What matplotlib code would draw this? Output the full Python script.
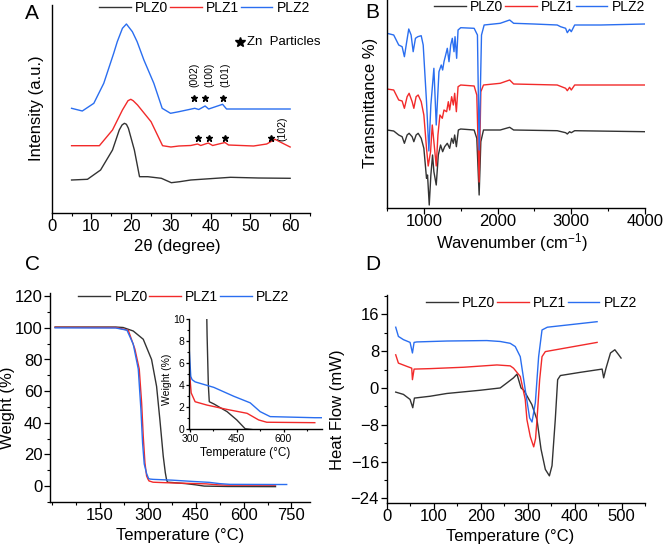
import numpy as np
import matplotlib
matplotlib.use("Agg")
import matplotlib.pyplot as plt
from matplotlib.ticker import MultipleLocator

plt.rcParams['font.family'] = ['Liberation Sans', 'DejaVu Sans']
plt.rcParams['mathtext.default'] = 'regular'
plt.rcParams['axes.linewidth'] = 1.0

# ---------------- data ----------------
labels = ['PLZ0', 'PLZ1', 'PLZ2']
colors = ['#333333', '#f22a2a', '#2a6ef0']

# A: XRD (arbitrary intensity, curves already offset)
xrd_2theta_plz0 = [5, 9, 12.3, 15.3, 17, 17.7, 18.3, 18.8, 19.3, 20.8, 22.1, 24.2, 27.6, 30.1, 32.2,
                   35, 45, 52, 60]
xrd_plz0 = [33, 33.7, 43, 63, 83, 88, 89.7, 88.7, 84.7, 63, 36.3, 36.3, 34.7, 30.3, 31.3,
            33, 35.7, 35, 34.7]
xrd_2theta_plz1 = [5, 12, 15.3, 17.8, 19.2, 19.9, 20.5, 21.6, 25, 27.9, 30, 32, 35, 36.7, 37.5,
                   39.4, 40.5, 43.6, 44.5, 50.8, 54.1, 56.2, 58, 60]
xrd_plz1 = [67.3, 67.3, 83, 103, 112.3, 113.7, 112.3, 108, 91.3, 67.3, 66, 67, 67.5, 69, 67.5,
            70, 67.5, 70.5, 68, 67, 69, 73.7, 70, 66]
xrd_2theta_plz2 = [5, 7.7, 10.6, 13.1, 15.6, 16.5, 17.8, 18.8, 20.3, 21.5, 23.2, 25.7, 27.8, 29.9,
                   32, 34, 36, 37, 38.6, 39.5, 43, 44, 50, 60]
xrd_plz2 = [104.7, 102, 109.7, 129.7, 159.7, 171.3, 184.7, 189, 181.3, 171.3, 153, 129.7, 104.7, 99.7,
            101.3, 103, 104.7, 103.5, 107, 104, 108.7, 104, 104, 104]
zn_star_x_plz2 = [35.9, 38.6, 43.0]
zn_star_x_plz1 = [36.7, 39.5, 43.6, 55.1]
hkl_plz2 = ['(002)', '(100)', '(101)']

# B: FTIR (arbitrary transmittance, offset)
ir_wn_plz0 = [500, 591, 659, 705, 736, 773, 800, 841, 864, 895, 923, 964, 1000, 1036, 1050, 1073,
              1095, 1118, 1136, 1168, 1196, 1227, 1255, 1282, 1318, 1350, 1377, 1400, 1418, 1441,
              1468, 1500, 1682, 1718, 1750, 1773, 1809, 2036, 2164, 2218, 2809, 2923, 2946, 2977,
              3000, 3046, 4000]
ir_plz0 = [78, 77, 73, 71.3, 64.7, 73, 74.7, 71.3, 66.3, 73, 74.7, 69.7, 59.7, 29.7, 33, 3,
           33, 53, 36.3, 23, 53, 63, 56.3, 61.3, 64.7, 59.7, 69.7, 64.7, 73, 61.3,
           78, 79, 78, 69.7, 13, 66.3, 78, 78, 80.7, 78, 77.3, 75.3, 74, 76.3,
           75.3, 77.3, 76.3]
ir_wn_plz1 = [500, 591, 659, 705, 736, 773, 800, 841, 864, 895, 923, 964, 1000, 1036, 1059, 1091,
              1114, 1136, 1168, 1191, 1218, 1250, 1273, 1309, 1332, 1350, 1377, 1400, 1418, 1441,
              1464, 1500, 1682, 1718, 1750, 1773, 1809, 2036, 2164, 2218, 2809, 2923, 2946, 2977,
              3000, 3046, 4000]
ir_plz1 = [119, 118, 108, 107, 99.7, 111.3, 114.7, 106.3, 99.7, 111.3, 113, 106.3, 93, 59.7, 42, 56.3,
           83, 66.3, 42, 73, 93, 89.7, 98, 96.3, 106.3, 98, 111.3, 103, 114.7, 96.3,
           121.3, 123, 122, 113, 26, 116.3, 123, 124.7, 128, 124, 123, 119.7, 117.3, 120.7,
           118, 123, 123]
ir_wn_plz2 = [500, 591, 659, 705, 736, 764, 795, 827, 855, 886, 918, 964, 991, 1036, 1068, 1095,
              1136, 1168, 1205, 1236, 1255, 1273, 1296, 1318, 1341, 1364, 1386, 1409, 1423, 1445,
              1464, 1500, 1682, 1727, 1750, 1782, 1818, 2036, 2164, 2218, 2491, 2809, 2855, 2923,
              2946, 2977, 3000, 3046, 3400, 4000]
ir_plz2 = [174.7, 173, 163, 161.3, 151.3, 164.7, 179, 173, 156.3, 169.7, 171.3, 172.3, 163, 106.3, 57, 103,
           139.7, 83, 136.3, 143, 138, 146.3, 153, 159.7, 146.3, 163, 169.7, 156.3, 171.3, 149.7,
           178, 180.3, 179.7, 173, 58, 173, 183, 184.7, 188, 184.7, 184, 183, 181.3, 179.7,
           175.3, 178.7, 176.3, 183, 183, 184]

# C: TGA weight (%)
tga_temp_plz0 = [10, 200, 223, 254.6, 285.9, 312, 327.7, 338, 348.5, 355, 359, 362, 376.6, 419,
                 450, 477, 550, 700]
tga_plz0 = [100.5, 100.5, 100.2, 98, 92.8, 80, 63, 42, 19, 8.5, 4, 2.5, 2.3, 1.6,
            0.85, 0.05, -0.2, -0.3]
tga_temp_plz1 = [10, 200, 239, 259.9, 273.4, 280.8, 285.9, 291.2, 296.4, 300.6, 304, 316.6, 354,
                 419, 483, 520, 546, 700]
tga_plz1 = [100.3, 100.2, 98.5, 86.5, 74, 52.8, 31.6, 14.8, 6.5, 4.5, 3.3, 2.5, 2.2,
            1.8, 1.45, 0.85, 0.64, 0.6]
tga_temp_plz2 = [10, 200, 235, 254.6, 270.3, 278.6, 283.9, 289, 296.4, 302.7, 307, 316.6, 376.6,
                 440, 493, 525, 557, 700, 735]
tga_plz2 = [100, 99.9, 98.5, 89.7, 74, 48.5, 27, 14, 8, 4.8, 4.5, 4.3, 3.8,
            3.0, 2.4, 1.6, 1.15, 1.05, 1.05]

# D: DSC heat flow (mW)
dsc_temp_plz0 = [19.2, 35.6, 49.8, 55.5, 59, 92.5, 128, 199, 241.7, 256, 270, 277.4, 286, 292,
                 309, 320, 328.6, 337.8, 346.4, 352, 359, 364, 369.8, 412.5, 458.7, 462, 467,
                 476.5, 485.8, 494, 499]
dsc_plz0 = [-0.9, -1.4, -2.5, -4.3, -2.2, -1.8, -1.2, -0.5, 0.0, 1.1, 2.2, 3.0, 0.0, -0.5,
            -3.6, -6.9, -13.3, -17.7, -19.1, -16.9, -6.8, 1.8, 2.7, 3.4, 4.1, 2.2, 4.3,
            7.6, 8.3, 7.2, 6.5]
dsc_temp_plz1 = [19.2, 24.9, 42.7, 53.3, 54.8, 58.3, 92.5, 163.6, 234.7, 263, 270, 284.4, 295,
                 298.6, 305.8, 313, 317, 320, 325.7, 330.7, 337.8, 448]
dsc_plz1 = [7.2, 5.4, 4.7, 4.3, 1.8, 4.1, 4.2, 4.5, 5.0, 4.8, 4.3, 2.5, -2.5,
            -6.9, -10.6, -12.8, -11, -6.9, 1.8, 6.8, 7.9, 9.9]
dsc_temp_plz2 = [19.2, 24.9, 35.6, 49.8, 54.8, 58.3, 64, 128, 213, 241.7, 263, 273.7, 284.4, 295,
                 304.3, 309.4, 316.5, 323.5, 330.7, 342, 448]
dsc_plz2 = [13.2, 11.2, 10.5, 9.9, 7.6, 9.9, 10.0, 10.2, 10.3, 10.1, 9.7, 9.0, 6.8, -0.4,
            -6.5, -7.4, -3.2, 6.8, 12.6, 13.2, 14.4]

# ---------------- figure ----------------
W, H = 664, 550
fig = plt.figure(figsize=(W / 100, H / 100), dpi=100)


def px_axes(l, r, b, t):
    return fig.add_axes([l / W, 1 - b / H, (r - l) / W, (b - t) / H])


def style(ax, size=12):
    for s in ['top', 'right']:
        ax.spines[s].set_visible(False)
    ax.tick_params(which='major', direction='out', length=4, width=0.9, labelsize=size)
    ax.tick_params(axis='x', which='major', pad=0.5)
    ax.tick_params(axis='y', which='major', pad=1.5)
    ax.tick_params(which='minor', direction='out', length=2.2, width=0.8)


def set_labels(ax, xlab, ylab, xpos, ypos, size=12):
    # xpos / ypos: label anchor in axes fraction (x label top centre, y label right centre)
    ax.set_xlabel(xlab, fontsize=size)
    ax.set_ylabel(ylab, fontsize=size)
    ax.xaxis.set_label_coords(*xpos)
    ax.yaxis.set_label_coords(*ypos)


def add_legend(ax, loc, anchor):
    ax.legend(loc=loc, bbox_to_anchor=anchor, ncol=3, frameon=False, fontsize=10,
              handlelength=2.3, handletextpad=0.3, columnspacing=0.1, borderpad=0,
              borderaxespad=0)


lw = 1.0

# A
axA = px_axes(51.7, 310, 213, 5)
style(axA)
xrd_x = [xrd_2theta_plz0, xrd_2theta_plz1, xrd_2theta_plz2]
xrd_y = [xrd_plz0, xrd_plz1, xrd_plz2]
for xx, yy, c, lab in zip(xrd_x, xrd_y, colors, labels):
    axA.plot(xx, yy, color=c, lw=lw, label=lab)
axA.plot(zn_star_x_plz2, [114.7] * len(zn_star_x_plz2), '*', color='k', ms=4.5)
axA.plot(zn_star_x_plz1, [74.7] * len(zn_star_x_plz1), '*', color='k', ms=4.5)
for xp, t in zip([36.0, 39.6, 43.8], hkl_plz2):
    axA.text(xp, 138, t, rotation=90, ha='center', va='center', fontsize=7.5)
axA.text(58.1, 84, '(102)', rotation=90, ha='center', va='center', fontsize=7.5)
axA.plot([47.4], [171.3], '*', color='k', ms=7)
axA.text(49.2, 171.3, 'Zn  Particles', ha='left', va='center', fontsize=9.5)
axA.set_xlim(0, 65)
axA.set_ylim(0, 208)
axA.set_yticks([])
axA.xaxis.set_major_locator(MultipleLocator(10))
axA.xaxis.set_minor_locator(MultipleLocator(5))
set_labels(axA, '2θ (degree)', 'Intensity (a.u.)', (0.485, -0.124), (-0.03, 0.505))
add_legend(axA, 'center right', (1.0, 0.985))

# B
axB = px_axes(387, 645, 208, 0)
style(axB)
ir_x = [ir_wn_plz0, ir_wn_plz1, ir_wn_plz2]
ir_y = [ir_plz0, ir_plz1, ir_plz2]
for xx, yy, c, lab in zip(ir_x, ir_y, colors, labels):
    axB.plot(xx, yy, color=c, lw=lw, label=lab)
axB.set_xlim(500, 4000)
axB.set_ylim(0, 208)
axB.set_yticks([])
axB.xaxis.set_major_locator(MultipleLocator(1000))
axB.xaxis.set_minor_locator(MultipleLocator(500))
set_labels(axB, 'Wavenumber (cm$^{-1}$)', 'Transmittance %)', (0.483, -0.112), (-0.035, 0.505))
add_legend(axB, 'center right', (1.0, 0.966))

# C
axC = px_axes(50, 310, 502, 293)
style(axC)
tga_x = [tga_temp_plz0, tga_temp_plz1, tga_temp_plz2]
tga_y = [tga_plz0, tga_plz1, tga_plz2]
for xx, yy, c, lab in zip(tga_x, tga_y, colors, labels):
    axC.plot(xx, yy, color=c, lw=lw, label=lab)
axC.set_xlim(-6, 808)
axC.set_ylim(-10, 122)
axC.set_xticks([150, 300, 450, 600, 750])
axC.xaxis.set_minor_locator(MultipleLocator(75))
axC.yaxis.set_major_locator(MultipleLocator(20))
axC.yaxis.set_minor_locator(MultipleLocator(10))
set_labels(axC, 'Temperature (°C)', 'Weight (%)', (0.5, -0.124), (-0.135, 0.45))
add_legend(axC, 'center', (0.515, 0.982))

# C inset
axI = px_axes(189.3, 322, 429.3, 319)
style(axI, size=7.5)
axI.tick_params(which='major', length=2.5, pad=1)
axI.tick_params(which='minor', length=1.5)
for xx, yy, c in zip(tga_x, tga_y, colors):
    axI.plot(xx, yy, color=c, lw=lw)
axI.set_xlim(298, 723)
axI.set_ylim(0, 10)
axI.set_xticks([300, 450, 600])
axI.xaxis.set_minor_locator(MultipleLocator(75))
axI.yaxis.set_major_locator(MultipleLocator(2))
axI.yaxis.set_minor_locator(MultipleLocator(1))
axI.set_xlabel('Temperature (°C)', fontsize=8.5)
axI.set_ylabel('Weight (%)', fontsize=7.5)
axI.xaxis.set_label_coords(0.42, -0.16)
axI.yaxis.set_label_coords(-0.13, 0.45)

# D
axD = px_axes(386.7, 645, 503, 295)
style(axD)
dsc_x = [dsc_temp_plz0, dsc_temp_plz1, dsc_temp_plz2]
dsc_y = [dsc_plz0, dsc_plz1, dsc_plz2]
for xx, yy, c, lab in zip(dsc_x, dsc_y, colors, labels):
    axD.plot(xx, yy, color=c, lw=lw, label=lab)
axD.set_xlim(0, 550)
axD.set_ylim(-25, 20.2)
axD.xaxis.set_major_locator(MultipleLocator(100))
axD.xaxis.set_minor_locator(MultipleLocator(50))
axD.set_yticks([-24, -16, -8, 0, 8, 16])
axD.yaxis.set_minor_locator(MultipleLocator(4))
set_labels(axD, 'Temperature (°C)', 'Heat Flow (mW)', (0.477, -0.124), (-0.161, 0.45))
add_legend(axD, 'center right', (0.969, 0.96))

# panel letters
for lab, x, y in [('A', 25, 19.3), ('B', 365, 18.3), ('C', 25, 269.5), ('D', 365, 269.5)]:
    fig.text(x / W, 1 - y / H, lab, fontsize=15, va='baseline', ha='left')

fig.savefig('out.png', dpi=100)
